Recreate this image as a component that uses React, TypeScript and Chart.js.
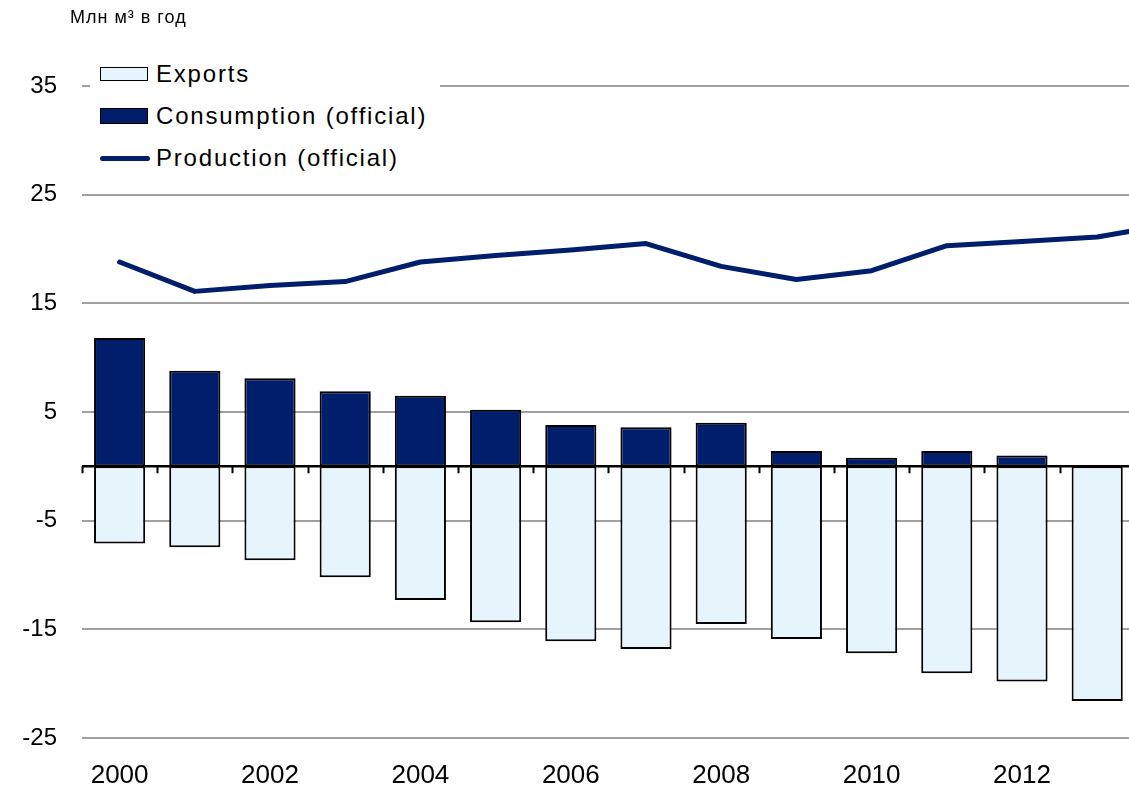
import React, { useEffect, useRef } from "react";
import { Chart, registerables } from "chart.js";

Chart.register(...registerables);

const years = ["2000","2001","2002","2003","2004","2005","2006","2007","2008","2009","2010","2011","2012","2013","2014"];
const consumption = [11.8, 8.8, 8.1, 6.9, 6.5, 5.2, 3.8, 3.6, 4.0, 1.4, 0.8, 1.4, 1.0, null, null];
const exportsData = [-7.1, -7.45, -8.65, -10.2, -12.3, -14.35, -16.1, -16.8, -14.5, -15.9, -17.2, -19.05, -19.8, -21.6, null];
const production = [18.8, 16.1, 16.65, 17.0, 18.8, 19.4, 19.9, 20.5, 18.4, 17.2, 18.0, 20.3, 20.7, 21.1, 22.3];
const yTicks = [-25, -15, -5, 5, 15, 25, 35];

const NAVY = "#001E6C";
const LIGHT = "#E6F4FC";
const FONT = "'Liberation Sans', Arial, sans-serif";

const zeroLinePlugin = {
  id: "zeroLine",
  afterDatasetsDraw(chart: any) {
    const { ctx, chartArea, scales } = chart;
    const y0 = scales.y.getPixelForValue(0);
    const n = chart.data.labels.length;
    const w = (chartArea.right - chartArea.left) / n;
    ctx.save();
    ctx.strokeStyle = "#000";
    ctx.lineWidth = 2;
    ctx.beginPath();
    for (let i = 0; i <= n; i++) {
      const x = Math.round(chartArea.left + i * w) + 0.5;
      ctx.moveTo(x, y0);
      ctx.lineTo(x, y0 + 7);
    }
    ctx.stroke();
    ctx.lineWidth = 2.5;
    ctx.beginPath();
    ctx.moveTo(chartArea.left, y0);
    ctx.lineTo(chartArea.right, y0);
    ctx.stroke();
    ctx.restore();
  },
};

export default function App() {
  const ref = useRef<HTMLCanvasElement | null>(null);
  useEffect(() => {
    if (!ref.current) return;
    const chart = new Chart(ref.current, {
      type: "bar",
      data: {
        labels: years,
        datasets: [
          {
            type: "line",
            label: "Production (official)",
            data: production,
            borderColor: NAVY,
            borderWidth: 5,
            pointRadius: 0,
            tension: 0,
            borderCapStyle: "round",
            borderJoinStyle: "round",
            order: 0,
          } as any,
          {
            label: "Consumption (official)",
            data: consumption,
            backgroundColor: NAVY,
            borderColor: "#000",
            borderWidth: 2,
            borderSkipped: false,
            barPercentage: 0.68,
            categoryPercentage: 1,
            order: 2,
          },
          {
            label: "Exports",
            data: exportsData,
            backgroundColor: LIGHT,
            borderColor: "#000",
            borderWidth: 2,
            borderSkipped: false,
            barPercentage: 0.68,
            categoryPercentage: 1,
            order: 2,
          },
        ],
      },
      options: {
        responsive: false,
        animation: false,
        devicePixelRatio: 1,
        layout: { padding: { top: 86, left: 0, right: 0, bottom: 0 } },
        plugins: { legend: { display: false }, tooltip: { enabled: false }, title: { display: false } },
        scales: {
          x: {
            stacked: true,
            grid: { display: false, drawTicks: false },
            border: { display: false },
            ticks: {
              autoSkip: false,
              maxRotation: 0,
              padding: 22,
              color: "#000",
              font: { family: FONT, size: 26 },
              callback: (_v: any, i: number) => (i % 2 === 0 && i < 14 ? years[i] : ""),
            },
            afterFit: (s: any) => { s.height = 54; },
          },
          y: {
            min: -25,
            max: 35,
            afterBuildTicks: (s: any) => { s.ticks = yTicks.map((v) => ({ value: v })); },
            grid: { color: "#A0A0A0", lineWidth: 2, drawTicks: false },
            border: { display: false },
            ticks: {
              padding: 25,
              color: "#000",
              font: { family: FONT, size: 24 },
            },
            afterFit: (s: any) => { s.width = 82; },
          },
        },
      },
      plugins: [zeroLinePlugin],
    });
    return () => chart.destroy();
  }, []);

  const rowStyle: React.CSSProperties = {
    position: "absolute",
    left: 10,
    display: "flex",
    alignItems: "center",
    fontFamily: FONT,
    fontSize: 24,
    letterSpacing: "1.8px",
    color: "#000",
    whiteSpace: "nowrap",
    height: 30,
  };

  return (
    <div style={{ position: "fixed", left: 0, top: 0, width: 1129, height: 792, overflow: "hidden", background: "#fff" }}>
      <canvas ref={ref} width={1210} height={792} style={{ position: "absolute", left: 0, top: 0 }} />
      <div style={{ position: "absolute", left: 70, top: 7, fontFamily: FONT, fontSize: 18, letterSpacing: "1px", color: "#000", whiteSpace: "nowrap" }}>Млн м³ в год</div>
      <div style={{ position: "absolute", left: 90, top: 55, width: 350, height: 125, background: "#fff" }}>
        <div style={{ ...rowStyle, top: 4 }}>
          <span style={{ display: "inline-block", width: 46, height: 12, background: LIGHT, border: "1.5px solid #000", marginRight: 8 }} />
          Exports
        </div>
        <div style={{ ...rowStyle, top: 46 }}>
          <span style={{ display: "inline-block", width: 46, height: 14, background: NAVY, border: "1.5px solid #000", marginRight: 8 }} />
          Consumption (official)
        </div>
        <div style={{ ...rowStyle, top: 88 }}>
          <span style={{ display: "inline-block", width: 50, height: 5, borderRadius: 3, background: NAVY, marginRight: 6 }} />
          Production (official)
        </div>
      </div>
    </div>
  );
}
